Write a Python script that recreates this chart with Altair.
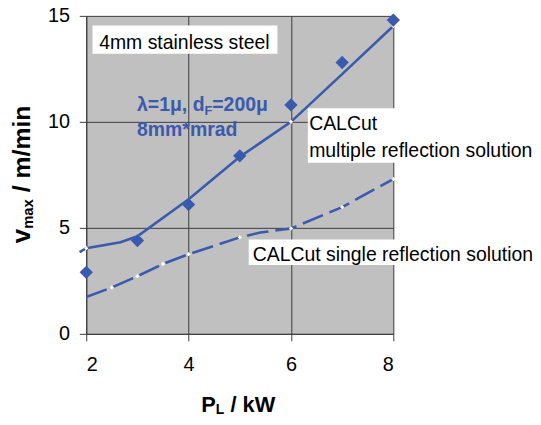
import altair as alt
import pandas as pd

# ---- data ----
x_exp = [2, 3, 4, 5, 6, 7, 8]
v_exp = [2.9, 4.4, 6.1, 8.4, 10.8, 12.8, 14.8]

x_multi = [1.87, 2, 2.67, 3, 4, 5, 6, 7, 8]
v_multi = [3.86, 4.04, 4.32, 4.6, 6.35, 8.35, 10.0, 12.25, 14.52]
multi_marker_x = [2, 3, 5, 6, 8]

x_single = [2, 2.5, 3, 3.5, 4, 5, 5.4, 6, 7, 8]
v_single = [1.74, 2.19, 2.72, 3.3, 3.76, 4.55, 4.78, 4.97, 5.98, 7.3]
single_marker_x = [2.5, 3, 3.5, 4, 5, 6, 7, 8]

x_ticks = [2, 4, 6, 8]
y_ticks = [0, 5, 10, 15]

BLUE = "#3A5AAD"
FONT = "Liberation Sans"

exp_df = pd.DataFrame({"x": x_exp, "v": v_exp})
multi_df = pd.DataFrame({"x": x_multi, "v": v_multi})
single_df = pd.DataFrame({"x": x_single, "v": v_single})
mdots = multi_df[multi_df["x"].isin(multi_marker_x)]
sdots = single_df[single_df["x"].isin(single_marker_x)]

xs = alt.Scale(domain=[2, 8], nice=False, zero=False)
ys = alt.Scale(domain=[0, 15], nice=False)
X = alt.X("x:Q", scale=xs, axis=alt.Axis(values=x_ticks, title=None, labelPadding=14))
Y = alt.Y("v:Q", scale=ys, axis=alt.Axis(values=y_ticks, title=None, labelPadding=10))

one = pd.DataFrame({"a": [0]})


def box(x1, x2, y1, y2):
    return alt.Chart(one).mark_rect(color="white").encode(
        x=alt.value(x1), x2=alt.value(x2), y=alt.value(y1), y2=alt.value(y2)
    )


def label(text, x, y, size=19.6, bold=False, color="black", angle=0):
    kw = dict(align="left", baseline="alphabetic", font=FONT, fontSize=size,
              color=color, fontWeight="bold" if bold else "normal")
    if angle:
        kw["angle"] = angle
    return alt.Chart(pd.DataFrame({"t": [text]})).mark_text(**kw).encode(
        text="t:N", x=alt.value(x), y=alt.value(y)
    )


base_lines = [
    alt.Chart(single_df).mark_line(color=BLUE, strokeWidth=2.6, strokeDash=[22, 7]).encode(x=X, y=Y),
    alt.Chart(multi_df).mark_line(color=BLUE, strokeWidth=2.6).encode(x=X, y=Y),
    alt.Chart(sdots).mark_point(shape="cross", filled=True, color="white", size=14, opacity=1).encode(x=X, y=Y),
    alt.Chart(mdots).mark_point(shape="cross", filled=True, color="white", size=14, opacity=1).encode(x=X, y=Y),
    alt.Chart(exp_df).mark_point(shape="diamond", filled=True, color=BLUE, size=180, opacity=1).encode(x=X, y=Y),
]

annotations = [
    label("4mm stainless steel", 13, 33.2),
    label("λ=1μ, d", 51.3, 96.5, bold=True, color=BLUE),
    label("F", 119.3, 100.5, size=13, bold=True, color=BLUE),
    label("=200μ", 127.2, 96.5, bold=True, color=BLUE),
    label("8mm*mrad", 51.3, 121.5, bold=True, color=BLUE),
    label("CALCut", 225, 115),
    label("multiple reflection solution", 225, 142.5),
    label("CALCut single reflection solution", 168, 247.5),
    # axis titles with subscripts
    label("P", 116, 399.5, size=22, bold=True),
    label("L", 130.7, 401.5, size=14, bold=True),
    label("/ kW", 145.6, 399.5, size=22, bold=True),
    label("v", -57, 229.5, size=26, bold=True, angle=270),
    label("max", -54, 215, size=15, bold=True, angle=270),
    label("/ m/min", -57, 178, size=25, bold=True, angle=270),
]

boxes = [
    box(6.3, 193, 9.8, 38.2),
    box(223.7, 451, 93.2, 148.2),
    box(164, 451, 225.8, 251.5),
]

chart = alt.layer(*boxes, *base_lines, *annotations).properties(
    width=310,
    height=321,
    autosize=alt.AutoSizeParams(type="none"),
    padding={"left": 79, "top": 6, "right": 141, "bottom": 82},
).configure_view(
    fill="#C0C0C0", stroke="transparent"
).configure_axis(
    grid=True, gridColor="#3C3C3C", gridWidth=1, gridOpacity=1,
    domainColor="#3C3C3C", domainWidth=1,
    tickColor="#3C3C3C", tickSize=7, tickWidth=1,
    labelFont=FONT, labelFontSize=20, labelColor="black",
)

chart.save("out.html", embed_options={"renderer": "svg", "actions": False})
